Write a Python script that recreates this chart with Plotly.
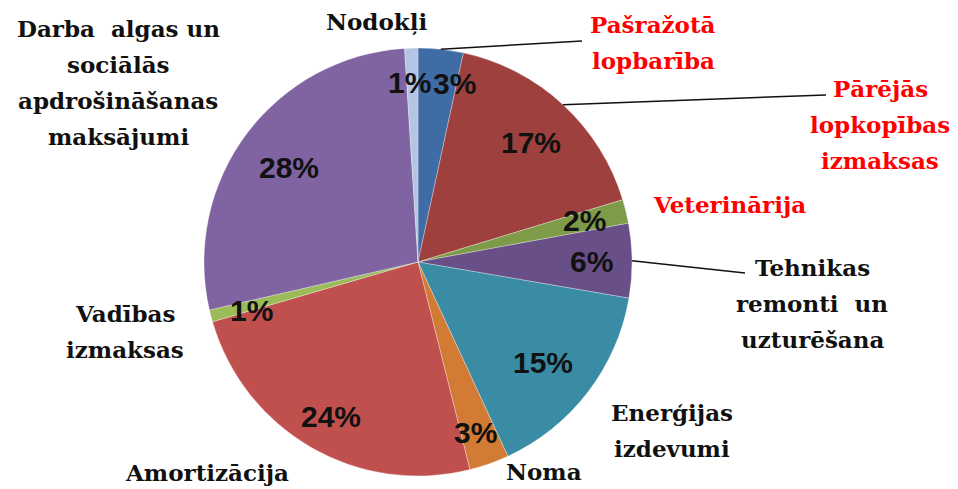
import math
import plotly.graph_objects as go

# ---- data ----
categories = [
    "Pašražotā lopbarība",
    "Pārējās lopkopības izmaksas",
    "Veterinārija",
    "Tehnikas remonti un uzturēšana",
    "Enerģijas izdevumi",
    "Noma",
    "Amortizācija",
    "Vadības izmaksas",
    "Darba algas un sociālās apdrošināšanas maksājumi",
    "Nodokļi",
]
values = [3.4, 16.9, 1.8, 5.6, 15.4, 3.0, 24.4, 0.9, 27.6, 1.0]
colors = ["#3F6CA5", "#9E413E", "#7E9B48", "#684F87", "#3A8CA5",
          "#D17B34", "#C0504D", "#9BBB59", "#8064A2", "#B3C5E3"]

# outside label lines and colours
label_lines = [
    ["Pašražotā", "lopbarība"],
    ["Pārējās", "lopkopības", "izmaksas"],
    ["Veterinārija"],
    ["Tehnikas", "remonti  un", "uzturēšana"],
    ["Enerģijas", "izdevumi"],
    ["Noma"],
    ["Amortizācija"],
    ["Vadības", "izmaksas"],
    ["Darba  algas un", "sociālās", "apdrošināšanas", "maksājumi"],
    ["Nodokļi"],
]
label_colors = ["#FF0000", "#FF0000", "#FF0000", "#111111", "#111111",
                "#111111", "#111111", "#111111", "#111111", "#111111"]

# ---- layout geometry (screen pixels; page body has an 8px margin) ----
OFF = 8
W, H = 958 - OFF, 489 - OFF
CX, CY, R = 418, 262, 214
LINE_STEP = 36
label_pos = [(653, 43), (880, 125), (729, 205), (812, 303), (672, 430),
             (544, 471), (207, 472), (125, 331), (118, 82), (376, 22)]
pct_radius = [0.85, 0.77, 0.80, 0.81, 0.75, 0.84, 0.83, 0.81, 0.75, 0.84]
pct_angle_nudge = [5.5, 0.8, -0.3, 0.2, 1.4, 0.9, -0.6, -1.8, -0.5, -0.8]
leader_ends = {0: (582, 41), 1: (826, 95), 3: (745, 273)}

LABEL_FONT = "DejaVu Serif"


def px(x):
    return (x - OFF) / W


def py(y):
    return 1 - (y - OFF) / H


fig = go.Figure(go.Pie(
    labels=categories,
    values=values,
    sort=False,
    direction="clockwise",
    rotation=0,
    marker=dict(colors=colors, line=dict(color="rgba(255,255,255,0.6)", width=0.5)),
    textinfo="none",
    hoverinfo="label+percent",
    showlegend=False,
    domain=dict(x=[px(CX - R), px(CX + R)], y=[py(CY + R), py(CY - R)]),
))

total = sum(values)
annotations = []
shapes = []
cum = 0.0
for i, v in enumerate(values):
    mid = (cum + v / 2) / total * 360.0
    cum += v
    # percentage label inside the slice
    a = math.radians(mid + pct_angle_nudge[i])
    r = R * pct_radius[i]
    x = CX + r * math.sin(a)
    y = CY - r * math.cos(a)
    annotations.append(dict(
        x=px(x), y=py(y), xref="paper", yref="paper",
        text=f"<b>{round(v / total * 100)}%</b>", showarrow=False,
        font=dict(family="Liberation Sans", size=30, color="#111111"),
        xanchor="center", yanchor="middle",
    ))
    # outside category label, one annotation per line
    lx, ly = label_pos[i]
    n = len(label_lines[i])
    for k, line in enumerate(label_lines[i]):
        yy = ly + (k - (n - 1) / 2) * LINE_STEP
        annotations.append(dict(
            x=px(lx), y=py(yy), xref="paper", yref="paper",
            text=line, showarrow=False, align="center",
            font=dict(family=LABEL_FONT, size=23, color=label_colors[i],
                      weight="bold"),
            xanchor="center", yanchor="middle", borderpad=0,
        ))
    # leader lines
    if i in leader_ends:
        am = math.radians(mid)
        sx = CX + R * math.sin(am)
        sy = CY - R * math.cos(am)
        ex, ey = leader_ends[i]
        shapes.append(dict(type="line", xref="paper", yref="paper",
                           x0=px(sx), y0=py(sy), x1=px(ex), y1=py(ey),
                           line=dict(color="#111111", width=1.5)))

fig.update_layout(
    width=W, height=H,
    margin=dict(l=0, r=0, t=0, b=0),
    paper_bgcolor="white",
    plot_bgcolor="white",
    annotations=annotations,
    shapes=shapes,
)

fig.write_html("out.html")
